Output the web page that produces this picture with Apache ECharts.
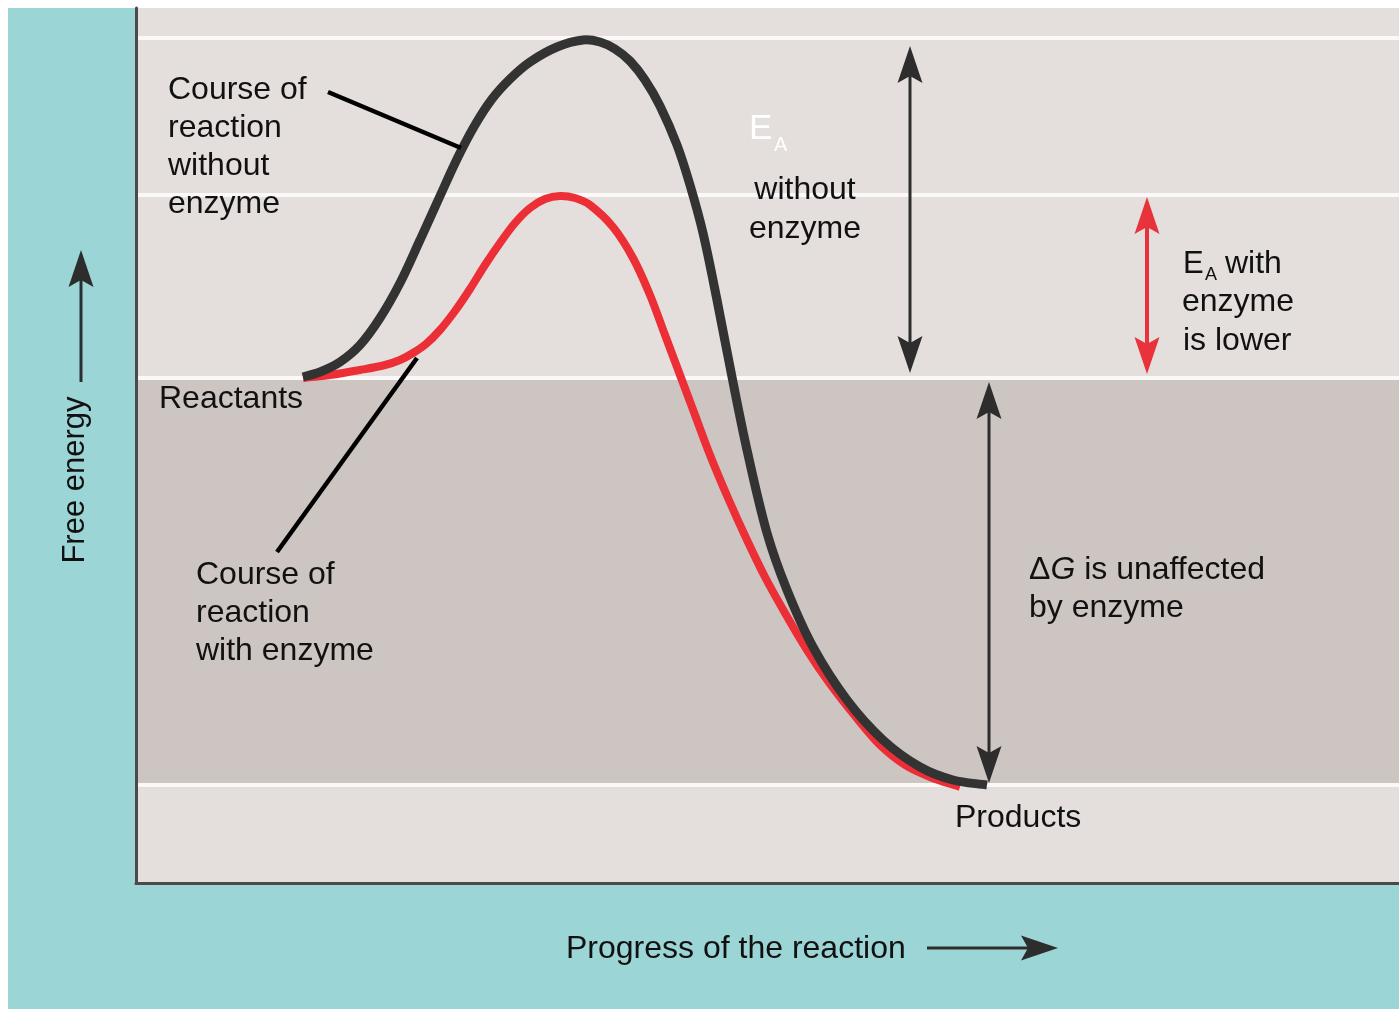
<!DOCTYPE html>
<html>
<head>
<meta charset="utf-8">
<script src="https://cdn.jsdelivr.net/npm/echarts@6/dist/echarts.min.js"></script>
<style>
html,body{margin:0;padding:0;background:#ffffff;}
#chart{width:1399px;height:1009px;}
</style>
</head>
<body>
<div id="chart"></div>
<script>
// ---------- data (x: progress of reaction, y: free energy, arbitrary units) ----------
const xExtent = [0, 1263];
const yExtent = [0, 875];
const energyLevels = [845, 688, 505, 98];          // peak w/o enzyme, peak with enzyme, reactants, products
const reactantsLevel = 505;
const productsLevel = 98;

const pathWithoutEnzyme = [
  [167,506],[184,511],[204,521],[224,538],[244,565],[264,600],[284,643],[304,687],
  [322,726],[339,758],[356,784],[374,804],[394,821],[421,836],[447,843],[464,841],
  [479,834],[494,822],[509,803],[524,777],[541,738],[554,698],[567,650],[581,583],
  [596,506],[611,433],[631,350],[651,293],[677,236],[711,183],[747,143],[784,116],
  [817,103],[851,98]
];
const pathWithEnzyme = [
  [167,505],[194,508],[224,513],[249,518],[264,523],[277,530],[290,539],[304,553],
  [319,572],[334,594],[349,618],[364,640],[379,660],[394,675],[409,684],[424,687],
  [439,685],[454,678],[477,656],[497,625],[514,588],[529,548],[544,508],[559,468],
  [574,428],[592,385],[611,343],[629,306],[649,270],[671,233],[694,199],[719,167],
  [744,138],[769,118],[794,106],[824,96]
];
// double arrows: [x, from energy, to energy]
const arrowsBlack = [[774, 837, 510], [853, 501, 100]];   // EA without enzyme, deltaG
const arrowsRed = [[1011, 686, 509]];                      // EA with enzyme
// leader lines: [x1, y1, x2, y2]
const leaderLines = [[192, 791, 325, 735], [281, 525, 141, 331]];

// ---------- annotations ----------
const FONT = "'Liberation Sans', Arial, Helvetica, sans-serif";
const annotations = [
  {t:'Course of', x:32, y:793},
  {t:'reaction', x:32, y:755},
  {t:'without', x:32, y:717},
  {t:'enzyme', x:32, y:679},
  {t:'Reactants', x:23, y:484},
  {t:'Course of', x:60, y:308},
  {t:'reaction', x:60, y:270},
  {t:'with enzyme', x:60, y:232},
  {t:'without', x:669, y:693, align:'center'},
  {t:'enzyme', x:669, y:654, align:'center'},
  {t:'E', x:613, y:754, size:35, color:'#ffffff'},
  {t:'A', x:638, y:738, size:20, color:'#ffffff'},
  {t:'E', x:1047, y:619, size:31},
  {t:'A', x:1069, y:608, size:18},
  {t:'with', x:1089, y:619},
  {t:'enzyme', x:1046, y:581},
  {t:'is lower', x:1047, y:542},
  {t:'{d|\u0394}{g|G} is unaffected', x:893, y:313, rich:true},
  {t:'by enzyme', x:893, y:275},
  {t:'Products', x:819, y:65}
];

// chordal Catmull-Rom spline through the projected data points
function curveRender(color, width) {
  return function (params, api) {
    if (params.dataIndexInside !== 0) return null;
    const n = params.dataInsideLength;
    const p = [];
    for (let i = 0; i < n; i++) p.push(api.coord([api.value(0, i), api.value(1, i)]));
    const t = [0];
    for (let i = 1; i < n; i++) t.push(t[i - 1] + Math.hypot(p[i][0] - p[i - 1][0], p[i][1] - p[i - 1][1]));
    const m = [];
    for (let i = 0; i < n; i++) {
      const a = p[Math.max(i - 1, 0)], b = p[Math.min(i + 1, n - 1)];
      const dt = t[Math.min(i + 1, n - 1)] - t[Math.max(i - 1, 0)];
      m.push([(b[0] - a[0]) / dt, (b[1] - a[1]) / dt]);
    }
    let d = 'M' + p[0][0] + ' ' + p[0][1];
    for (let i = 0; i < n - 1; i++) {
      const h = (t[i + 1] - t[i]) / 3;
      const c1 = [p[i][0] + m[i][0] * h, p[i][1] + m[i][1] * h];
      const c2 = [p[i + 1][0] - m[i + 1][0] * h, p[i + 1][1] - m[i + 1][1] * h];
      d += ' C' + c1[0] + ' ' + c1[1] + ' ' + c2[0] + ' ' + c2[1] + ' ' + p[i + 1][0] + ' ' + p[i + 1][1];
    }
    return {type:'path', shape:{pathData:d},
            style:{stroke:color, lineWidth:width, fill:null, lineCap:'butt', lineJoin:'round'}};
  };
}

function arrowRender(color, lw) {
  return function (params, api) {
    const x = api.value(0);
    const a = api.coord([x, api.value(1)]);
    const b = api.coord([x, api.value(2)]);
    const top = a[1] < b[1] ? a : b;
    const bot = a[1] < b[1] ? b : a;
    const L = 37, N = 30, W = 12.5;
    return {
      type: 'group',
      children: [
        {type:'line', shape:{x1:top[0], y1:top[1] + N - 2, x2:bot[0], y2:bot[1] - N + 2},
         style:{stroke:color, lineWidth:lw}},
        {type:'polygon', shape:{points:[[top[0],top[1]],[top[0]+W,top[1]+L],[top[0],top[1]+N],[top[0]-W,top[1]+L]]},
         style:{fill:color}},
        {type:'polygon', shape:{points:[[bot[0],bot[1]],[bot[0]+W,bot[1]-L],[bot[0],bot[1]-N],[bot[0]-W,bot[1]-L]]},
         style:{fill:color}}
      ]
    };
  };
}

const chart = echarts.init(document.getElementById('chart'), null, {renderer:'canvas'});

const option = {
  animation: false,
  backgroundColor: '#ffffff',
  graphic: [
    {type:'rect', z:-100, shape:{x:8, y:8, width:1391, height:1001}, style:{fill:'#9cd5d5'}},
    {type:'text', z:50, x:566, y:949,
     style:{text:'Progress of the reaction', font:'32px ' + FONT, fill:'#111111', verticalAlign:'middle'}},
    {type:'line', z:50, shape:{x1:927, y1:948, x2:1030, y2:948}, style:{stroke:'#2d2d2d', lineWidth:3}},
    {type:'polygon', z:50, shape:{points:[[1058,948],[1021,935.5],[1028,948],[1021,960.5]]}, style:{fill:'#2d2d2d'}},
    {type:'text', z:50, x:75, y:480, rotation:Math.PI/2,
     style:{text:'Free energy', font:'31px ' + FONT, fill:'#111111', align:'center', verticalAlign:'middle'}},
    {type:'line', z:50, shape:{x1:81, y1:382, x2:81, y2:278}, style:{stroke:'#2d2d2d', lineWidth:3}},
    {type:'polygon', z:50, shape:{points:[[81,250],[93.5,287],[81,280],[68.5,287]]}, style:{fill:'#2d2d2d'}}
  ],
  grid: {left:136, right:0, top:8, bottom:126, show:true, backgroundColor:'#e4dfdc', borderWidth:0},
  xAxis: {
    type:'value', min:xExtent[0], max:xExtent[1], z:20,
    axisLine:{show:true, onZero:false, lineStyle:{color:'#4a4a4a', width:3}},
    axisTick:{show:false}, axisLabel:{show:false}, splitLine:{show:false}
  },
  yAxis: {
    type:'value', min:yExtent[0], max:yExtent[1], z:20,
    axisLine:{show:true, onZero:false, lineStyle:{color:'#4a4a4a', width:3}},
    axisTick:{show:false}, axisLabel:{show:false}, splitLine:{show:false}
  },
  series: [
    {
      type:'line', name:'levels', data:[], z:1, silent:true,
      markArea:{silent:true, itemStyle:{color:'#cdc5c2'},
        data:[[{yAxis:productsLevel},{yAxis:reactantsLevel}]]},
      markLine:{silent:true, symbol:'none', label:{show:false},
        lineStyle:{color:'#fbf9f8', width:4, type:'solid'},
        data: energyLevels.map(v => ({yAxis:v}))}
    },
    {
      type:'custom', name:'with enzyme', data:pathWithEnzyme, z:10, silent:true,
      encode:{x:0, y:1}, renderItem:curveRender('#ec2f37', 8)
    },
    {
      type:'custom', name:'without enzyme', data:pathWithoutEnzyme, z:11, silent:true,
      encode:{x:0, y:1}, renderItem:curveRender('#333333', 9)
    },
    {
      type:'custom', name:'leaders', z:12, silent:true, data:leaderLines,
      encode:{x:[0,2], y:[1,3]},
      renderItem:function(params, api){
        const p1 = api.coord([api.value(0), api.value(1)]);
        const p2 = api.coord([api.value(2), api.value(3)]);
        return {type:'line', shape:{x1:p1[0], y1:p1[1], x2:p2[0], y2:p2[1]},
                style:{stroke:'#000000', lineWidth:4.5}};
      }
    },
    {
      type:'custom', name:'arrows', z:13, silent:true, data:arrowsBlack,
      encode:{x:0, y:[1,2]}, renderItem:arrowRender('#2d2d2d', 3)
    },
    {
      type:'custom', name:'arrowsRed', z:13, silent:true, data:arrowsRed,
      encode:{x:0, y:[1,2]}, renderItem:arrowRender('#e8333b', 4)
    },
    {
      type:'custom', name:'annotations', z:15, silent:true,
      data: annotations.map(a => [a.x, a.y]),
      encode:{x:0, y:1},
      renderItem:function(params, api){
        const a = annotations[params.dataIndex];
        const p = api.coord([api.value(0), api.value(1)]);
        const size = a.size || 32;
        const style = {
          text:a.t, fill:a.color || '#111111', font: size + 'px ' + FONT,
          align:a.align || 'left', verticalAlign:'middle'
        };
        if (a.rich) {
          style.rich = {
            d:{font: size + 'px ' + FONT, fill:'#111111'},
            g:{font: 'italic ' + size + 'px ' + FONT, fill:'#111111'}
          };
        }
        return {type:'text', x:p[0], y:p[1], style:style};
      }
    }
  ]
};
chart.setOption(option);
</script>
</body>
</html>
